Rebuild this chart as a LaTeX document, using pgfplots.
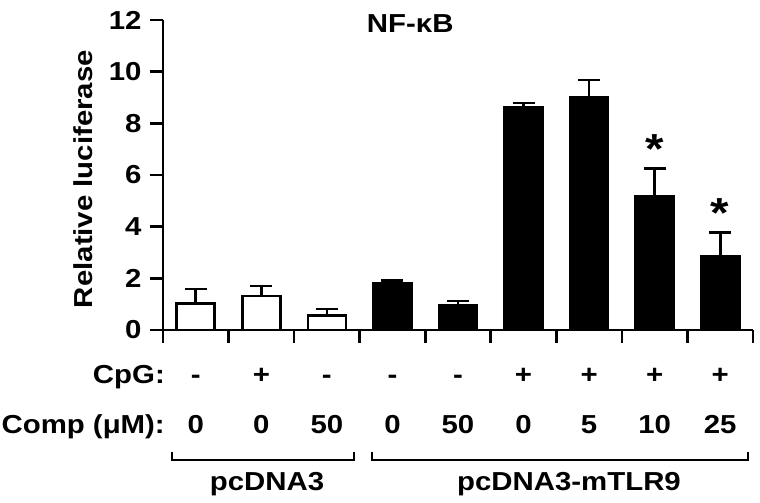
\documentclass[border=0pt]{standalone}
\usepackage{fontspec}
\setmainfont{Liberation Sans}
\usepackage{graphicx}
\usepackage{pgfplots}
\pgfplotsset{compat=1.18}
\newcommand\lab{\fontsize{26}{30}\selectfont\bfseries}
% the source font is a little wider than Arial
\newcommand\sx[1]{\scalebox{1.13}[1]{#1}}

\begin{document}
\begin{tikzpicture}
\path[use as bounding box] (-163pt,-173pt) rectangle (597pt,330pt);
\begin{axis}[
  scale only axis,
  width=590pt, height=310pt,
  xmin=0.5, xmax=9.5, ymin=0, ymax=12,
  axis x line*=bottom, axis y line*=left,
  axis line style={-, line width=2.6pt, black},
  xtick={0.5,1.5,...,9.5}, xticklabels={},
  ytick={0,2,...,12},
  yticklabel={\sx{\pgfmathprintnumber{\tick}}},
  tick align=outside, major tick length=13pt,
  tick style={line width=2.6pt, black},
  yticklabel style={font=\lab, xshift=-5pt},
  /pgf/number format/assume math mode=true,
  ylabel={\sx{Relative luciferase}},
  every axis y label/.style={at={(axis description cs:-0.136,0.487)}, rotate=90, anchor=center, font=\lab},
  clip=false,
]
% pcDNA3 (open bars)
\addplot[ybar, bar width=38pt, bar shift=0pt, fill=white, draw=black, line width=2.6pt,
  error bars/.cd, y dir=plus, y explicit,
  error bar style={line width=2.6pt, black},
  error mark options={rotate=90, mark size=11pt, line width=2.6pt, black}]
  coordinates {(1,1.03) +- (0,0.56) (2,1.32) +- (0,0.38) (3,0.57) +- (0,0.24)};
% pcDNA3-mTLR9 (filled bars)
\addplot[ybar, bar width=38pt, bar shift=0pt, fill=black, draw=black, line width=2.6pt,
  error bars/.cd, y dir=plus, y explicit,
  error bar style={line width=2.6pt, black},
  error mark options={rotate=90, mark size=11pt, line width=2.6pt, black}]
  coordinates {(4,1.80) +- (0,0.12) (5,0.96) +- (0,0.16) (6,8.62) +- (0,0.16)
               (7,8.99) +- (0,0.69) (8,5.19) +- (0,1.07) (9,2.86) +- (0,0.92)};
% significance marks
\addplot[draw=none, mark=none, black, point meta=explicit symbolic,
  nodes near coords={\sx{\pgfplotspointmeta}},
  nodes near coords style={font=\fontsize{42}{44}\selectfont\bfseries, anchor=base, yshift=5pt}]
  coordinates {(8,6.26)[*] (9,3.78)[*]};
% CpG row
\addplot[draw=none, mark=none, black, point meta=explicit symbolic,
  nodes near coords={\sx{\pgfplotspointmeta}},
  nodes near coords style={font=\lab, anchor=base, yshift=-53pt}]
  coordinates {(1,0)[-] (2,0)[+] (3,0)[-] (4,0)[-] (5,0)[-] (6,0)[+] (7,0)[+] (8,0)[+] (9,0)[+]};
% Comp row
\addplot[draw=none, mark=none, black, point meta=explicit symbolic,
  nodes near coords={\sx{\pgfplotspointmeta}},
  nodes near coords style={font=\lab, anchor=base, yshift=-103pt}]
  coordinates {(1,0)[0] (2,0)[0] (3,0)[50] (4,0)[0] (5,0)[50] (6,0)[0] (7,0)[5] (8,0)[10] (9,0)[25]};
\node[font=\lab] at (rel axis cs:0.419,0.987) {\sx{NF-κB}};
\end{axis}
\node[font=\lab, anchor=base east, inner sep=0pt] at (2pt,-53pt) {\sx{CpG:}};
\node[font=\lab, anchor=base east, inner sep=0pt] at (2pt,-103pt) {\sx{Comp (μM):}};
\draw[line width=2.4pt] (9pt,-122pt) -- (9pt,-130pt) -- (191pt,-130pt) -- (191pt,-122pt);
\draw[line width=2.4pt] (209pt,-122pt) -- (209pt,-130pt) -- (585pt,-130pt) -- (585pt,-122pt);
\node[font=\lab, anchor=base, inner sep=0pt] at (104pt,-160pt) {\sx{pcDNA3}};
\node[font=\lab, anchor=base, inner sep=0pt] at (406pt,-160pt) {\sx{pcDNA3-mTLR9}};
\end{tikzpicture}
\end{document}
